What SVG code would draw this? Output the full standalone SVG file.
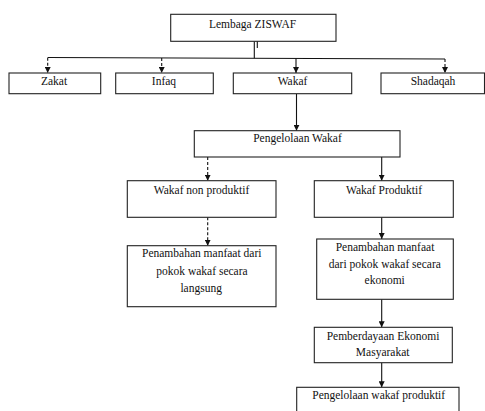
<svg xmlns="http://www.w3.org/2000/svg" width="485" height="411" viewBox="0 0 485 411">
<style>
.box{fill:#fff;stroke:#222;stroke-width:1.1}
.t{font-family:'Liberation Serif',Times,serif;font-size:11.5px;fill:#111;text-anchor:middle}
.c{fill:none;stroke:#111;stroke-width:1.1}
.d{stroke-dasharray:3,2}
</style>
<defs>
<marker id="ah" viewBox="0 0 6 6" refX="6" refY="3" markerWidth="6" markerHeight="6" markerUnits="userSpaceOnUse" orient="auto">
<path d="M0,0 L6,3 L0,6 Z" fill="#111"/>
</marker>
</defs>
<rect width="485" height="411" fill="#fff"/>
<g id="connectors">
<path class="c" d="M254.3,41.3 V58.3"/>
<path class="c" d="M257.3,40 V48" stroke-width="2"/>
<path class="c" d="M47.7,57.5 L445,59"/>
<path class="c d" d="M47.7,57.8 V73" marker-end="url(#ah)"/>
<path class="c d" d="M161.7,58 V73" marker-end="url(#ah)"/>
<path class="c" d="M296,58.3 V73" marker-end="url(#ah)"/>
<path class="c d" d="M445,59 V73" marker-end="url(#ah)"/>
<path class="c" d="M296.5,94 V130.7" marker-end="url(#ah)"/>
<path class="c d" d="M207.7,157 V180.7" marker-end="url(#ah)"/>
<path class="c" d="M381.7,157 V180.7" marker-end="url(#ah)"/>
<path class="c d" d="M207.7,217.3 V245.7" marker-end="url(#ah)"/>
<path class="c" d="M381.7,217.3 V239" marker-end="url(#ah)"/>
<path class="c" d="M381.7,299.3 V327.3" marker-end="url(#ah)"/>
<path class="c" d="M381.7,362.7 V387.3" marker-end="url(#ah)"/>
</g>
<g id="lembaga"><rect class="box" x="170.7" y="14.3" width="165.3" height="27"/><text class="t" x="252.5" y="28">Lembaga ZISWAF</text></g>
<g id="zakat"><rect class="box" x="9" y="73" width="91.7" height="20.7"/><text class="t" x="54" y="84.5">Zakat</text></g>
<g id="infaq"><rect class="box" x="115.7" y="73" width="97.6" height="20.7"/><text class="t" x="164" y="84.5">Infaq</text></g>
<g id="wakaf"><rect class="box" x="233.3" y="73" width="118.4" height="20.7"/><text class="t" x="292.5" y="84.5">Wakaf</text></g>
<g id="shadaqah"><rect class="box" x="381" y="73" width="103.5" height="20.7"/><text class="t" x="433" y="84.5">Shadaqah</text></g>
<g id="pengelolaan"><rect class="box" x="194.3" y="130.7" width="205.7" height="26.3"/><text class="t" x="297.5" y="141.5">Pengelolaan  Wakaf</text></g>
<g id="nonproduktif"><rect class="box" x="127.3" y="180.7" width="148.7" height="36.6"/><text class="t" x="201.5" y="194.3">Wakaf non produktif</text></g>
<g id="produktif"><rect class="box" x="314.3" y="180.7" width="139" height="36.6"/><text class="t" x="384" y="194.3">Wakaf Produktif</text></g>
<g id="langsung"><rect class="box" x="127.3" y="245.7" width="148.7" height="61"/>
<text class="t" x="201.7" y="257.3">Penambahan manfaat  dari</text>
<text class="t" x="202" y="275">pokok wakaf secara</text>
<text class="t" x="201.2" y="292.3">langsung</text></g>
<g id="ekonomi"><rect class="box" x="316.7" y="239" width="136.6" height="60.3"/>
<text class="t" x="385" y="251">Penambahan manfaat</text>
<text class="t" x="384.8" y="267.7">dari pokok wakaf secara</text>
<text class="t" x="384.7" y="284.3">ekonomi</text></g>
<g id="pemberdayaan"><rect class="box" x="314.3" y="327.3" width="138" height="35.4"/>
<text class="t" x="383" y="340">Pemberdayaan Ekonomi</text>
<text class="t" x="382.7" y="356">Masyarakat</text></g>
<g id="pengelolaanproduktif"><rect class="box" x="296.7" y="387.3" width="162.3" height="30"/>
<text class="t" x="378.7" y="399">Pengelolaan wakaf produktif</text></g>
</svg>
